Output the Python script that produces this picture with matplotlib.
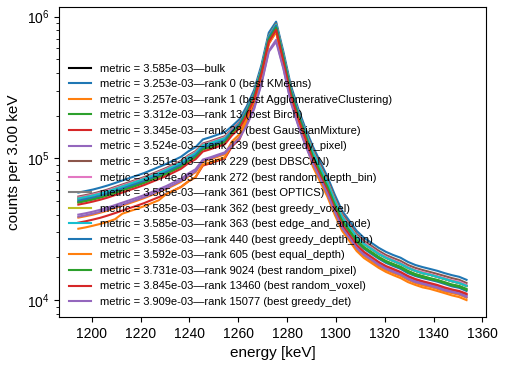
import matplotlib
matplotlib.use("Agg")
import matplotlib.pyplot as plt
import numpy as np

plt.rcParams['font.family'] = ['Liberation Sans', 'DejaVu Sans']
plt.rcParams['mathtext.fontset'] = 'custom'
plt.rcParams['mathtext.rm'] = 'Liberation Sans'
plt.rcParams['mathtext.it'] = 'Liberation Sans:italic'
plt.rcParams['mathtext.bf'] = 'Liberation Sans:bold'

# bin centres, 3 keV bins
energy_kev = np.arange(1194.5, 1354.0, 3.0)

# counts per bin (thousands)
bulk = [52.1, 53.3, 54.7, 56.4, 58.4, 60.8, 63.3, 65.9, 68.7, 71.6, 75.1, 78.9, 82.9, 87.8, 93.0, 101.6, 108.8,
        123.4, 127.9, 133.3, 138.8, 155.8, 174.3, 219.3, 284.8, 428.2, 722.4, 877.7, 529.4, 308.3, 211.8, 152.7,
        110.7, 86.3, 67.6, 50.4, 38.8, 32.9, 27.9, 24.9, 23.0, 21.2, 19.9, 18.9, 18.0, 16.9, 16.1, 15.5, 15.1, 14.6,
        14.1, 13.6, 13.2, 12.6]
rank0 = [57.4, 58.8, 60.3, 62.2, 64.4, 67.0, 69.8, 72.7, 75.7, 78.9, 82.8, 87.0, 91.4, 96.8, 102.5, 112, 120,
         136, 141, 147, 153, 169, 189, 234, 304, 457, 771, 922, 565, 329, 226, 163,
         122, 95.2, 74.5, 55.6, 42.8, 36.3, 30.8, 27.5, 25.4, 23.4, 21.9, 20.8, 19.9, 18.6, 17.7, 17.1, 16.6, 16.1,
         15.5, 15.0, 14.6, 13.9]
rank1 = [38.2, 39.1, 40.1, 41.4, 42.8, 44.6, 46.4, 48.3, 50.3, 52.5, 55.1, 57.9, 60.8, 64.4, 68.2, 74.5, 79.8,
         94.9, 98.4, 102.6, 106.8, 132.3, 148.0, 195.6, 262.4, 394.4, 665.4, 808.6, 479.7, 279.3, 191.9, 138.4,
         90.9, 70.9, 55.5, 41.4, 31.9, 27.0, 22.9, 20.5, 18.9, 17.4, 16.3, 15.5, 14.8, 13.9, 13.2, 12.7, 12.4, 12.0,
         11.5, 11.2, 10.9, 10.4]
rank13 = [49.5, 50.7, 52.0, 53.7, 55.6, 57.8, 60.2, 62.7, 65.3, 68.1, 71.5, 75.1, 78.9, 83.5, 88.5, 96.7, 103.6,
          117.4, 121.7, 126.9, 132.0, 153.3, 171.4, 212.2, 275.7, 414.5, 699.3, 863.9, 520.9, 303.3, 208.4, 150.3,
          105.3, 82.2, 64.3, 48.0, 36.9, 31.3, 26.6, 23.7, 21.9, 20.2, 18.9, 18.0, 17.2, 16.1, 15.3, 14.8, 14.3, 13.9,
          13.4, 12.9, 12.6, 12.0]
rank28 = [35.2, 36.0, 37.0, 38.1, 39.5, 41.1, 42.8, 44.6, 46.4, 48.4, 50.8, 53.3, 56.0, 59.3, 62.8, 68.7, 73.6,
          88.9, 92.2, 96.1, 100.1, 121.8, 136.3, 180.2, 245.9, 382.1, 644.6, 782.8, 464.4, 270.4, 185.8, 134.0,
          95.5, 74.5, 58.3, 43.5, 33.5, 28.4, 24.1, 21.5, 19.9, 18.3, 17.1, 16.3, 15.6, 14.6, 13.9, 13.4, 13.0, 12.6,
          12.1, 11.7, 11.4, 10.9]
rank139 = [40.1, 41.0, 42.1, 43.4, 45.0, 46.8, 48.7, 50.7, 52.8, 55.1, 57.8, 60.7, 63.8, 67.6, 71.5, 78.2, 83.8,
           98.1, 101.7, 106.0, 110.3, 125.9, 140.8, 174.3, 226.5, 340.5, 574.4, 686.9, 435.1, 253.3, 174.0, 125.5,
           93.9, 73.3, 57.4, 42.8, 33.0, 28.0, 23.7, 21.2, 19.6, 18.0, 16.9, 16.0, 15.3, 14.3, 13.6, 13.2, 12.8, 12.4,
           11.9, 11.6, 11.2, 10.7]
rank229 = [53.8, 55.1, 56.5, 58.3, 60.3, 62.8, 65.4, 68.1, 70.9, 73.9, 77.6, 81.5, 85.6, 90.7, 96.0, 104.9, 112.4,
           127.4, 132.1, 137.7, 143.4, 160.9, 179.9, 222.8, 289.4, 435.1, 734.0, 892.5, 537.9, 313.2, 215.2, 155.2,
           116.1, 90.6, 70.9, 52.9, 40.7, 34.6, 29.3, 26.2, 24.2, 22.3, 20.8, 19.8, 18.9, 17.7, 16.9, 16.3, 15.8, 15.3,
           14.8, 14.3, 13.9, 13.2]
rank272 = [52.9, 54.2, 55.6, 57.3, 59.4, 61.8, 64.4, 67.0, 69.8, 72.7, 76.3, 80.2, 84.3, 89.2, 94.5, 103.3, 110.6,
           125.4, 130.0, 135.5, 141.1, 158.4, 177.1, 219.3, 284.8, 428.2, 722.4, 877.7, 529.4, 308.3, 211.8, 152.7,
           112.5, 87.8, 68.7, 51.3, 39.5, 33.5, 28.4, 25.4, 23.4, 21.6, 20.2, 19.2, 18.3, 17.1, 16.3, 15.8, 15.3, 14.8,
           14.3, 13.8, 13.5, 12.8]
rank440 = [50.3, 51.6, 52.9, 54.5, 56.5, 58.8, 61.2, 63.8, 66.4, 69.2, 72.6, 76.3, 80.2, 84.9, 89.9, 98.2, 105.2,
           119.3, 123.7, 128.9, 134.2, 155.8, 174.3, 215.7, 280.3, 421.4, 710.9, 863.9, 520.9, 303.3, 208.4, 150.3,
           102.0, 79.6, 62.3, 46.5, 35.8, 30.3, 25.7, 23.0, 21.2, 19.6, 18.3, 17.4, 16.6, 15.5, 14.8, 14.3, 13.9, 13.5,
           13.0, 12.5, 12.2, 11.6]
rank605 = [31.9, 32.6, 33.5, 34.5, 35.7, 37.2, 40.7, 42.4, 44.1, 46.0, 48.3, 50.7, 56.0, 59.3, 62.8, 68.7, 73.6,
           90.4, 93.8, 97.8, 101.7, 125.9, 140.8, 189.3, 254.1, 382.1, 644.6, 782.8, 464.4, 270.4, 185.8, 134.0,
           88.0, 68.6, 53.7, 40.1, 30.9, 26.2, 22.2, 19.8, 18.3, 16.9, 15.8, 15.0, 14.3, 13.4, 12.8, 12.3, 12.0, 11.6,
           11.2, 10.8, 10.5, 10.0]
rank9024 = [48.7, 49.9, 51.2, 52.8, 54.7, 56.9, 59.3, 61.7, 64.3, 67.0, 70.3, 73.9, 77.6, 82.2, 87.0, 95.1, 101.9,
            115.5, 119.7, 124.8, 129.9, 150.7, 168.6, 208.7, 271.2, 407.6, 687.7, 836.3, 504.0, 293.5, 201.6, 145.4,
            103.6, 80.8, 63.3, 47.2, 36.3, 30.8, 26.1, 23.3, 21.6, 19.9, 18.6, 17.7, 16.9, 15.8, 15.0, 14.5, 14.1, 13.7,
            13.2, 12.7, 12.4, 11.8]
rank13460 = [47.2, 48.3, 49.6, 51.1, 52.9, 55.1, 57.4, 59.8, 62.2, 64.9, 68.1, 71.5, 75.1, 79.6, 84.3, 92.1, 98.6,
             111.8, 115.9, 120.8, 125.8, 145.8, 163.1, 201.9, 262.4, 394.4, 665.4, 808.6, 479.7, 279.3, 191.9, 138.4,
             97.1, 75.8, 59.3, 44.3, 34.1, 28.9, 24.5, 21.9, 20.2, 18.6, 17.4, 16.6, 15.8, 14.8, 14.1, 13.6, 13.2, 12.8,
             12.3, 11.9, 11.6, 11.1]
rank15077 = [38.8, 39.7, 40.8, 42.0, 43.5, 45.3, 47.2, 49.1, 51.2, 53.3, 56.0, 58.8, 61.8, 65.4, 69.3, 75.7, 81.1,
             96.6, 100.1, 104.4, 108.6, 123.9, 138.5, 171.5, 222.8, 335.0, 565.1, 664.8, 428.3, 249.4, 171.3, 123.6,
             92.5, 72.2, 56.5, 42.1, 32.4, 27.5, 23.3, 20.8, 19.3, 17.7, 16.6, 15.8, 15.1, 14.1, 13.4, 13.0, 12.6, 12.2,
             11.7, 11.4, 11.1, 10.5]

labels = [
    "metric = 3.585e-03\u2014bulk",
    "metric = 3.253e-03\u2014rank 0 (best KMeans)",
    "metric = 3.257e-03\u2014rank 1 (best AgglomerativeClustering)",
    "metric = 3.312e-03\u2014rank 13 (best Birch)",
    "metric = 3.345e-03\u2014rank 28 (best GaussianMixture)",
    "metric = 3.524e-03\u2014rank 139 (best greedy_pixel)",
    "metric = 3.551e-03\u2014rank 229 (best DBSCAN)",
    "metric = 3.574e-03\u2014rank 272 (best random_depth_bin)",
    "metric = 3.585e-03\u2014rank 361 (best OPTICS)",
    "metric = 3.585e-03\u2014rank 362 (best greedy_voxel)",
    "metric = 3.585e-03\u2014rank 363 (best edge_and_anode)",
    "metric = 3.586e-03\u2014rank 440 (best greedy_depth_bin)",
    "metric = 3.592e-03\u2014rank 605 (best equal_depth)",
    "metric = 3.731e-03\u2014rank 9024 (best random_pixel)",
    "metric = 3.845e-03\u2014rank 13460 (best random_voxel)",
    "metric = 3.909e-03\u2014rank 15077 (best greedy_det)",
]
# ranks 361-363 share the bulk metric and spectrum
series = [bulk, rank0, rank1, rank13, rank28, rank139, rank229, rank272,
          bulk, bulk, bulk, rank440, rank605, rank9024, rank13460, rank15077]

fig = plt.figure(figsize=(5.08, 3.65), dpi=100)
ax = fig.add_axes([0.116, 0.1315, 0.8406, 0.8493])

ax.plot(energy_kev, np.array(series[0]) * 1e3, color='black', label=labels[0])
for i in range(1, len(series)):
    ax.plot(energy_kev, np.array(series[i]) * 1e3, color='C%d' % ((i - 1) % 10), label=labels[i])

ax.set_yscale('log')
ax.set_ylim(7600, 1.17e6)
ax.set_xticks(np.arange(1200, 1361, 20))
ax.tick_params(labelsize=10)
ax.set_xlabel("energy [keV]", fontsize=11)
ax.set_ylabel("counts per 3.00 keV", fontsize=11)
ax.legend(loc='lower left', frameon=False, fontsize=8, labelspacing=0.5)

fig.savefig("out.png", dpi=100)
